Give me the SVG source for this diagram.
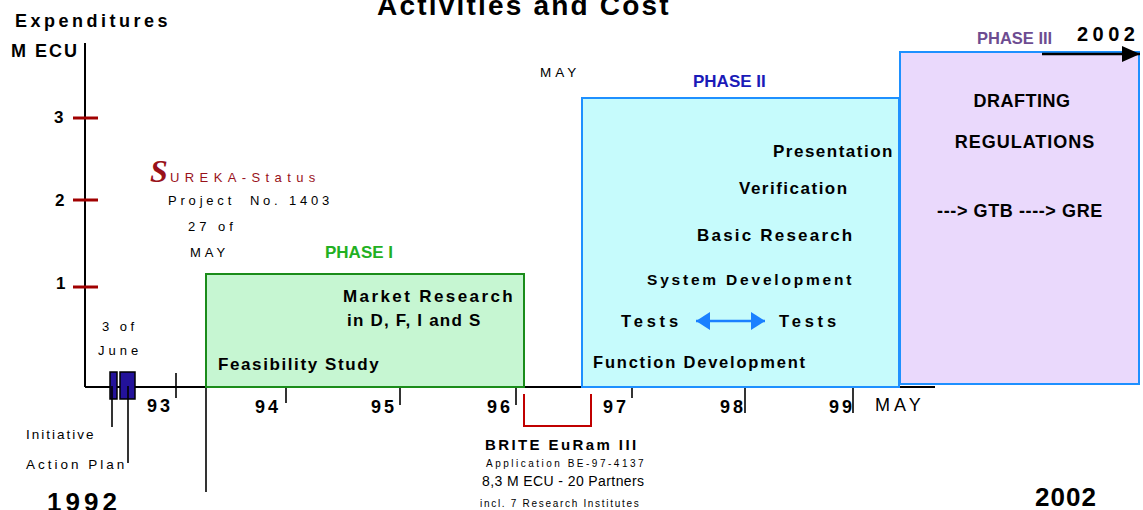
<svg xmlns="http://www.w3.org/2000/svg" width="1143" height="510" viewBox="0 0 1143 510">
<style>
text{font-family:"Liberation Sans",Arial,sans-serif;fill:#000}
.b{font-weight:bold}
.ax{stroke:#000;stroke-width:2;fill:none}
.tk{stroke:#000;stroke-width:1.6;fill:none}
.rt{stroke:#a00000;stroke-width:3}
.yr{font-weight:bold;font-size:18px;letter-spacing:3px}
.ph{stroke-width:2}
.in{font-weight:bold;font-size:17px}
</style>
<defs>
<marker id="blk" viewBox="0 0 10 10" refX="10" refY="5" markerWidth="18" markerHeight="16" markerUnits="userSpaceOnUse" orient="auto" preserveAspectRatio="none"><path d="M0,0L10,5L0,10z" fill="#000"/></marker>
<marker id="bl" viewBox="0 0 10 10" refX="10" refY="5" markerWidth="14" markerHeight="18" markerUnits="userSpaceOnUse" orient="auto-start-reverse" preserveAspectRatio="none"><path d="M0,0L10,5L0,10z" fill="#1a80ff"/></marker>
</defs>

<text x="377" y="15" class="b" font-size="28" letter-spacing="2.2">Activities and Cost</text>

<g id="axes">
<text x="15" y="27" class="b" font-size="18" letter-spacing="3.5">Expenditures</text>
<text x="11" y="57" class="b" font-size="18" letter-spacing="2">M ECU</text>
<line class="ax" x1="85" y1="43" x2="85" y2="387"/>
<line class="ax" x1="85" y1="387" x2="935" y2="387"/>
<line class="rt" x1="73" y1="118" x2="98" y2="118"/>
<line class="rt" x1="73" y1="200" x2="98" y2="200"/>
<line class="rt" x1="73" y1="287" x2="98" y2="287"/>
<text x="54" y="123" class="b" font-size="17">3</text>
<text x="55" y="206" class="b" font-size="17">2</text>
<text x="56" y="289" class="b" font-size="17">1</text>
<line class="tk" x1="176" y1="373" x2="176" y2="398"/>
<line class="tk" x1="206" y1="387" x2="206" y2="492"/>
<line class="tk" x1="286" y1="388" x2="286" y2="403"/>
<line class="tk" x1="400" y1="388" x2="400" y2="405"/>
<line class="tk" x1="516" y1="388" x2="516" y2="405"/>
<line class="tk" x1="632" y1="388" x2="632" y2="398"/>
<line class="tk" x1="745" y1="388" x2="745" y2="413"/>
<line class="tk" x1="853" y1="388" x2="853" y2="413"/>
<text x="147" y="412" class="yr">93</text>
<text x="255" y="413" class="yr">94</text>
<text x="371" y="413" class="yr">95</text>
<text x="487" y="413" class="yr">96</text>
<text x="603" y="413" class="yr">97</text>
<text x="720" y="413" class="yr">98</text>
<text x="829" y="413" class="yr">99</text>
<text x="875" y="411" font-size="18" letter-spacing="4">MAY</text>
<text x="47" y="511" class="b" font-size="26" letter-spacing="4">1992</text>
<text x="1035" y="506" class="b" font-size="26" letter-spacing="1">2002</text>
</g>

<g id="initiative">
<rect x="110" y="372" width="7" height="27" fill="#23129a" stroke="#000" stroke-width="1.5"/>
<rect x="120" y="372" width="15" height="27" fill="#23129a" stroke="#000" stroke-width="1.5"/>
<line class="tk" x1="112" y1="386" x2="112" y2="427"/>
<line class="tk" x1="128" y1="386" x2="128" y2="463"/>
<text x="102" y="331" font-size="13" letter-spacing="3.5">3 of</text>
<text x="98" y="355" font-size="13" letter-spacing="4">June</text>
<text x="26" y="439" font-size="13.5" letter-spacing="2">Initiative</text>
<text x="26" y="469" font-size="13.5" letter-spacing="3">Action Plan</text>
</g>

<g id="sureka">
<text x="150" y="182" style="fill:#99111a;font-family:'Liberation Serif','Times New Roman',serif" font-size="32" font-weight="bold" font-style="italic">S</text>
<text x="170" y="182" style="fill:#99111a" font-size="13" letter-spacing="5.4">UREKA-Status</text>
<text x="168" y="205" font-size="13" letter-spacing="3.8" xml:space="preserve">Project  No. 1403</text>
<text x="188" y="231" font-size="13" letter-spacing="4">27 of</text>
<text x="190" y="257" font-size="13" letter-spacing="4">MAY</text>
</g>

<g id="phase1">
<rect class="ph" x="206" y="274" width="318" height="113" fill="#c6f6d2" stroke="#1a8c1a"/>
<text x="325" y="258" class="b" font-size="17" style="fill:#22b022">PHASE I</text>
<text x="343" y="302" class="in" letter-spacing="2.4">Market Research</text>
<text x="347" y="326" class="in" letter-spacing="1.2">in D, F, I and S</text>
<text x="218" y="370" class="in" letter-spacing="1.6">Feasibility Study</text>
</g>

<g id="brite">
<text x="485" y="450" class="b" font-size="15" letter-spacing="2.4">BRITE EuRam III</text>
<text x="486" y="467" font-size="10" letter-spacing="2.5">Application BE-97-4137</text>
<text x="482" y="486" font-size="14" letter-spacing="0.4">8,3 M ECU - 20 Partners</text>
<text x="480" y="507" font-size="10" letter-spacing="1.7">incl. 7 Research Institutes</text>
</g>

<g id="phase2">
<rect class="ph" x="582" y="98" width="317" height="289" fill="#c6fbfc" stroke="#1e90ff"/>
<text x="540" y="77" font-size="13.5" letter-spacing="4">MAY</text>
<text x="693" y="87" class="b" font-size="17" style="fill:#1a1ab8">PHASE II</text>
<text x="773" y="157" class="in" letter-spacing="1.5">Presentation</text>
<text x="739" y="194" class="in" letter-spacing="1.5">Verification</text>
<text x="697" y="241" class="in" letter-spacing="2.2">Basic Research</text>
<text x="647" y="285" class="b" font-size="15.5" letter-spacing="2.8">System Development</text>
<text x="621" y="327" class="b" font-size="16.5" letter-spacing="3.8">Tests</text>
<text x="779" y="327" class="b" font-size="16.5" letter-spacing="3.8">Tests</text>
<text x="593" y="368" class="b" font-size="16.5" letter-spacing="1.8">Function Development</text>
</g>

<g id="phase3">
<rect class="ph" x="900" y="52" width="239" height="332" fill="#ead9fc" stroke="#1e90ff"/>
<text x="977" y="44" class="b" font-size="16.5" style="fill:#6d4c91">PHASE III</text>
<text x="1077" y="41" class="b" font-size="20" letter-spacing="4.5">2002</text>
<text x="1022" y="107" class="b" font-size="18" letter-spacing="0.5" text-anchor="middle">DRAFTING</text>
<text x="1025" y="148" class="b" font-size="18" letter-spacing="1" text-anchor="middle">REGULATIONS</text>
<text x="1020" y="217" class="b" font-size="18" letter-spacing="0.6" text-anchor="middle">---&gt; GTB ----&gt; GRE</text>
</g>

<g id="connectors">
<polyline points="524,394 524,426 591,426 591,394" fill="none" stroke="#c00000" stroke-width="2"/>
<line x1="696" y1="321" x2="765" y2="321" stroke="#1a80ff" stroke-width="2.5" marker-start="url(#bl)" marker-end="url(#bl)"/>
<line x1="1042" y1="54" x2="1140" y2="54" stroke="#000" stroke-width="2.5" marker-end="url(#blk)"/>
</g>
</svg>
